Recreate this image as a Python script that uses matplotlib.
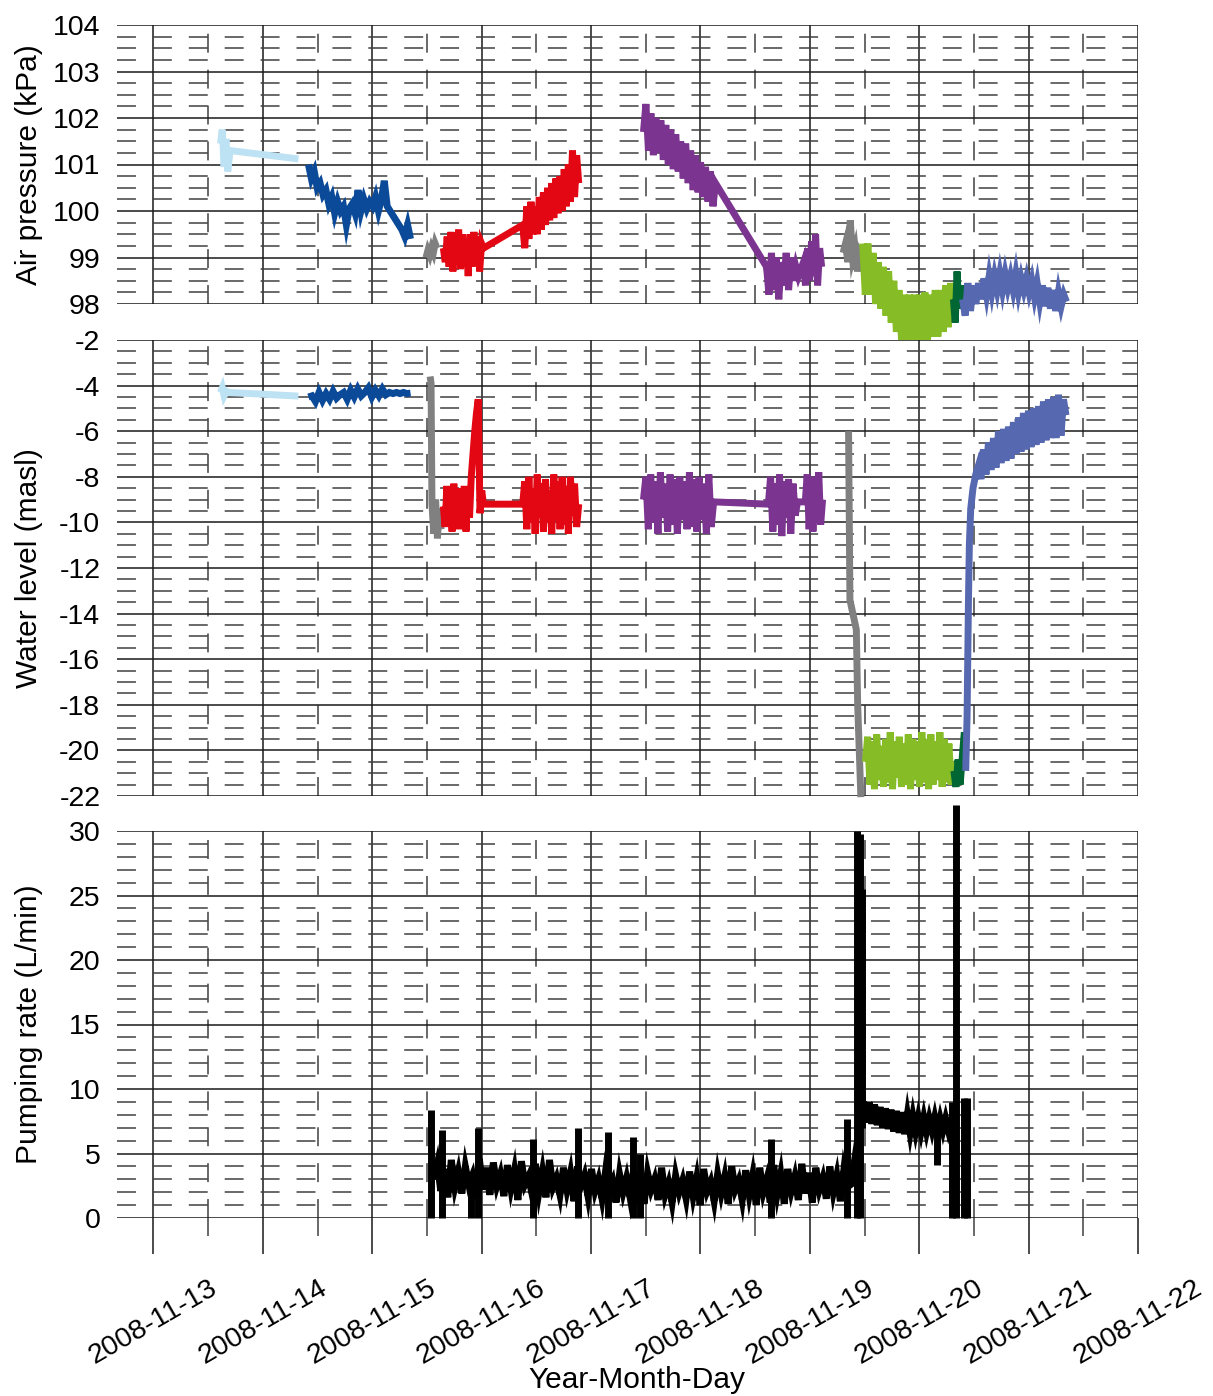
import numpy as np
import matplotlib
matplotlib.use("Agg")
import matplotlib.pyplot as plt
import matplotlib.dates as mdates
from matplotlib.ticker import MultipleLocator

plt.rcParams['font.family'] = ['Liberation Sans', 'DejaVu Sans']
plt.rcParams['axes.unicode_minus'] = False

# time axis: hours after 2008-11-13 00:00
T0 = mdates.date2num(np.datetime64('2008-11-13T00:00'))

def tx(hours):
    return T0 + np.asarray(hours, float) / 24.0

def piece(h0, h1, vals):
    # evenly sampled logger record between h0 and h1
    return list(np.linspace(h0, h1, len(vals))), list(vals)

# ---------------- air pressure (kPa) ----------------
lb_p_t = [14.7, 15.1, 15.5, 15.9, 16.3, 16.8, 31.8]
lb_p = [101.45, 101.75, 100.95, 101.55, 100.85, 101.3, 101.12]

db_p = [101.0, 100.7, 100.85, 100.5, 100.6, 100.35, 100.45, 100.15, 100.3, 99.95,
        100.2, 100.0, 100.1, 99.7, 100.05, 100.15, 99.95, 100.45, 100.0, 100.25,
        100.05, 100.2, 100.1, 100.3, 100.0, 100.25, 100.65, 100.1, 100.0, 99.9,
        99.8, 99.7, 99.6, 99.45, 99.7, 99.4]
gr1_p = [99.0, 99.15, 99.05, 99.2, 99.1, 99.3, 99.2]
rd_p_a = [99.2, 98.9, 99.45, 98.8, 99.55, 98.7, 99.4, 99.0, 99.6, 98.75, 99.5,
          98.9, 99.35, 98.6, 99.5, 98.8, 99.55, 98.9, 99.45, 98.7, 99.3, 99.2]
rd_p_b = [99.7, 99.2, 100.1, 99.4, 100.2, 99.5, 100.1, 99.5, 100.3, 99.6, 100.4,
          99.7, 100.5, 99.8, 100.6, 99.85, 100.7, 99.95, 100.75, 100.0, 100.9,
          100.1, 101.0, 100.2, 101.3, 100.3, 101.2, 100.6]
pu_p_a = [101.7, 102.3, 101.3, 102.1, 101.2, 102.0, 101.25, 101.95, 101.1, 101.85,
          101.0, 101.75, 100.9, 101.65, 100.85, 101.5, 100.7, 101.45, 100.6, 101.3,
          100.45, 101.2, 100.4, 101.05, 100.3, 100.95, 100.2, 100.85, 100.1, 100.6]
pu_p_b = [98.8, 98.2, 99.1, 98.3, 99.0, 98.1, 98.9, 98.4, 99.1, 98.3, 99.0, 98.5,
          98.8, 98.6]
pu_p_c = [98.9, 98.4, 99.2, 98.5, 99.35, 98.6, 99.5, 98.4, 99.2, 98.8]
gr2_p = [99.1, 99.3, 98.9, 99.8, 99.0, 99.2, 98.7, 99.1, 99.0]
yg_p = [99.3, 98.2, 99.3, 98.2, 99.1, 98.0, 98.9, 97.9, 98.8, 97.75, 98.7, 97.6,
        98.5, 97.4, 98.3, 97.2, 98.2, 97.1, 98.2, 97.05, 98.2, 97.1, 98.2, 97.1,
        98.25, 97.2, 98.2, 97.3, 98.3, 97.3, 98.3, 97.4, 98.4, 97.5, 98.45, 98.0]
dg_p = [98.1, 97.6, 98.7, 97.9, 98.4, 98.0]
bv_p = [98.1, 97.75, 98.45, 97.85, 98.4, 98.0, 98.45, 98.1, 98.55, 98.2, 98.6,
        98.25, 98.6, 98.3, 98.65, 98.3, 98.65, 98.35, 98.6, 98.3, 98.65, 98.25,
        98.55, 98.3, 98.55, 98.25, 98.5, 98.15, 98.45, 98.05, 98.4, 97.95, 98.35,
        97.9, 98.3, 97.85, 98.25, 97.95, 98.2, 98.05]

# ---------------- water level (masl) ----------------
lb_w_t = [14.7, 15.1, 15.5, 16.0, 16.5, 31.8]
lb_w = [-4.3, -4.1, -4.45, -4.25, -4.3, -4.46]
db_w = [-4.5, -4.45, -4.7, -4.3, -4.65, -4.35, -4.6, -4.25, -4.55, -4.4, -4.3,
        -4.6, -4.2, -4.5, -4.15, -4.45, -4.3, -4.1, -4.5, -4.2, -4.45, -4.15,
        -4.4, -4.3, -4.35, -4.3, -4.35, -4.3, -4.35, -4.33]
gr1_w_t = [60.7, 60.9, 61.1, 61.5, 61.9, 62.3, 62.7, 63.1]
gr1_w = [-3.6, -3.9, -9.2, -10.5, -9.0, -10.7, -9.4, -10.3]
rd_w_a = [-9.3, -10.2, -8.4, -10.0, -8.6, -10.4, -8.3, -9.9, -8.5, -10.3, -8.6,
          -10.0, -8.4, -10.4, -8.5, -9.8, -8.0, -7.0, -6.0, -5.2, -4.6, -9.6,
          -8.6, -9.2]
rd_w_b = [-9.2, -8.2, -10.3, -8.0, -10.0, -8.5, -10.5, -7.9, -9.8, -8.3, -10.4,
          -8.1, -10.0, -8.6, -10.5, -7.9, -9.9, -8.2, -10.3, -8.0, -10.1, -8.4,
          -10.5, -8.0, -9.7, -8.3, -10.2, -9.2]
pu_w_a = [-9.0, -8.0, -10.3, -7.9, -10.0, -8.2, -10.5, -7.8, -9.8, -8.3, -10.4,
          -7.9, -10.1, -8.1, -10.5, -8.0, -9.9, -8.2, -10.3, -7.8, -10.2, -8.1,
          -10.4, -8.0, -9.9, -8.3, -10.5, -7.9, -10.2, -9.1]
pu_w_b = [-9.2, -8.0, -10.4, -8.3, -10.1, -7.9, -10.6, -8.2, -9.8, -8.1, -10.5,
          -8.3, -9.7, -9.1]
pu_w_c = [-9.1, -7.9, -10.3, -8.0, -10.4, -8.2, -10.0, -7.8, -10.1, -9.0]
gr2_w_t = [152.5, 152.8, 154.2, 154.5, 155.2]
gr2_w = [-6.0, -13.4, -14.7, -18.0, -22.05]
yg_w = [-20.5, -19.4, -21.5, -19.6, -21.7, -19.3, -21.3, -19.8, -21.6, -19.5,
        -21.4, -19.2, -21.7, -19.6, -21.2, -19.4, -21.6, -19.7, -21.5, -19.3,
        -21.7, -19.5, -21.3, -19.6, -21.6, -19.2, -21.4, -19.5, -21.7, -19.3,
        -21.5, -19.6, -21.3, -19.2, -21.6, -19.5, -21.4, -19.7, -21.5, -20.5]
dg_w = [-20.9, -21.6, -20.4, -21.5, -20.3, -19.2]
bv_w_rise_t = [178.2, 178.5, 178.8, 179.0, 179.3, 179.8, 180.4, 181.0]
bv_w_rise = [-20.9, -18.5, -13.5, -11.0, -9.4, -8.5, -7.9, -7.5]
bv_w = [-7.5, -8.1, -6.8, -7.9, -6.5, -7.7, -6.3, -7.6, -6.0, -7.4, -5.9, -7.3,
        -5.8, -7.2, -5.6, -7.0, -5.4, -6.9, -5.2, -6.8, -5.1, -6.7, -5.0, -6.6,
        -4.9, -6.5, -4.7, -6.4, -4.6, -6.3, -4.5, -6.3, -4.4, -6.2, -4.6, -5.3]

# ---------------- pumping rate (L/min) ----------------
pump_low = [3.0, 4.2, 2.1, 3.8, 1.6, 4.5, 2.4, 3.6, 1.9, 4.0, 2.6, 3.3, 1.5, 4.6, 2.2, 3.9, 1.8, 4.3, 2.5, 3.4,
            1.7, 4.1, 2.3, 3.7, 1.4, 4.4, 2.6, 3.2, 1.9, 4.2, 2.0, 3.6, 1.6, 4.5, 2.4, 3.1, 1.8, 3.9, 2.2, 3.5,
            1.3, 4.0, 2.5, 3.3, 1.7, 3.8, 2.1, 3.0, 1.5, 3.6, 2.3, 2.9, 1.2, 3.4, 2.0, 3.1, 1.6, 3.7, 1.9, 2.8,
            1.1, 3.5, 2.2, 3.0, 1.4, 3.9, 1.8, 2.7, 1.2, 3.3, 2.0, 2.9, 1.5, 3.6, 1.7, 3.1, 1.0, 3.8, 2.1, 2.8,
            1.3, 3.4, 1.9, 3.2, 1.1, 4.0, 2.2, 2.9, 1.4, 3.7, 1.8, 3.3, 1.0, 3.9, 2.0, 3.0, 1.2, 4.1, 1.9, 3.4,
            1.1, 3.8, 2.1, 3.2, 1.4, 4.2, 1.9, 3.5, 1.2, 3.9, 2.2, 3.1, 1.5, 4.0, 2.0, 3.3, 1.3, 3.7, 2.4, 2.6]
pump_high = [9.0, 7.4, 9.0, 7.3, 8.8, 7.2, 8.6, 7.0, 8.5, 6.9, 8.4, 6.7, 8.3, 6.6, 8.2, 6.5, 8.0,
             6.6, 7.9, 6.7, 7.8, 6.7, 7.8, 6.7, 7.7, 6.8, 7.8, 6.7, 7.7, 6.8, 7.7, 6.8, 7.6]
spike_h = [60.8, 63.2, 69.6, 71.2, 83.2, 93.2, 99.8, 105.1, 106.8, 135.4, 152.1,
           154.3, 155.0, 155.5, 171.8, 175.2, 176.0, 177.9, 178.5]
spike_lo = [0, 0, 0, 0, 0, 0, 0, 0, 0, 0, 0, 0, 0, 7.0, 4.1, 0, 0, 0, 0]
spike_hi = [8.4, 6.8, 3.5, 7.0, 6.1, 7.0, 6.7, 6.3, 5.0, 6.1, 7.7, 30.0, 29.8,
            25.5, 7.5, 9.0, 32.0, 9.3, 9.3]

C_LB = '#bde2f3'
C_DB = '#0b4a98'
C_GR = '#808080'
C_RD = '#e30613'
C_PU = '#7b3590'
C_YG = '#86bc25'
C_DG = '#006633'
C_BV = '#5668b0'


def join(*parts):
    t, v = [], []
    for pt, pv in parts:
        t += list(pt)
        v += list(pv)
    return tx(t), v


fig = plt.figure(figsize=(12.13, 13.96), dpi=100)
L, W = 117 / 1213, 1021 / 1213
ax1 = fig.add_axes([L, 1 - 304 / 1396, W, 279 / 1396])
ax2 = fig.add_axes([L, 1 - 796 / 1396, W, 456 / 1396])
ax3 = fig.add_axes([L, 1 - 1218 / 1396, W, 387 / 1396])

LW = 5
kw = dict(lw=LW, solid_joinstyle='miter', solid_capstyle='butt', clip_on=False, zorder=3)

# air pressure
ax1.plot(*join((lb_p_t, lb_p)), color=C_LB, **kw)
ax1.plot(*join(piece(34.0, 56.4, db_p)), color=C_DB, **kw)
ax1.plot(*join(piece(59.8, 62.2, gr1_p)), color=C_GR, **kw)
ax1.plot(*join(piece(63.6, 72.4, rd_p_a), piece(81.0, 93.3, rd_p_b)), color=C_RD, **kw)
ax1.plot(*join(piece(107.5, 123.3, pu_p_a), piece(134.5, 141.5, pu_p_b),
               piece(142.6, 146.6, pu_p_c)), color=C_PU, **kw)
ax1.plot(*join(piece(151.3, 155.5, gr2_p)), color=C_GR, **kw)
ax1.plot(*join(piece(155.6, 175.5, yg_p)), color=C_YG, **kw)
ax1.plot(*join(piece(175.5, 177.5, dg_p)), color=C_DG, **kw)
ax1.plot(*join(piece(177.5, 200.3, bv_p)), color=C_BV, **kw)

# water level
ax2.plot(*join((lb_w_t, lb_w)), color=C_LB, **kw)
ax2.plot(*join(piece(34.0, 56.4, db_w)), color=C_DB, **kw)
ax2.plot(*join((gr1_w_t, gr1_w)), color=C_GR, **kw)
ax2.plot(*join(piece(63.6, 72.4, rd_w_a), piece(81.0, 93.3, rd_w_b)), color=C_RD, **kw)
ax2.plot(*join(piece(107.5, 122.9, pu_w_a), piece(134.9, 141.3, pu_w_b),
               piece(143.0, 146.8, pu_w_c)), color=C_PU, **kw)
ax2.plot(*join((gr2_w_t, gr2_w)), color=C_GR, **kw)
ax2.plot(*join(piece(156.2, 175.5, yg_w)), color=C_YG, **kw)
ax2.plot(*join(piece(175.6, 177.9, dg_w)), color=C_DG, **kw)
ax2.plot(*join((bv_w_rise_t, bv_w_rise), piece(181.0, 200.2, bv_w)), color=C_BV, **kw)

# pumping rate
ax3.plot(*join(piece(61.5, 153.0, pump_low), piece(155.8, 175.0, pump_high)),
         color='black', **kw)
ax3.vlines(tx(spike_h), spike_lo, spike_hi, color='black', lw=LW, clip_on=False, zorder=3)

major_dash = dict(color='#1a1a1a', lw=1.1, ls='-')
minor_dash = dict(color='#404040', lw=1.1, ls=(0, (12.4, 11.1)))

for ax in (ax1, ax2, ax3):
    ax.set_xlim(tx(-8.0), tx(216.0))
    ax.xaxis.set_major_locator(mdates.DayLocator())
    ax.xaxis.set_minor_locator(mdates.HourLocator(byhour=[12]))
    ax.xaxis.set_major_formatter(mdates.DateFormatter('%Y-%m-%d'))
    for s in ax.spines.values():
        s.set_visible(False)
    ax.set_axisbelow(True)
    ax.grid(which='major', **major_dash)
    ax.grid(which='minor', **minor_dash)
    ax.tick_params(axis='y', which='both', length=0, pad=12, labelsize=20.5)
    ax.yaxis.set_label_coords(-0.072, 0.5)

ax1.set_ylim(98, 104)
ax1.yaxis.set_major_locator(MultipleLocator(1))
ax1.yaxis.set_minor_locator(MultipleLocator(0.25))
ax1.set_ylabel('Air pressure (kPa)', fontsize=21.5)

ax2.set_ylim(-22, -2)
ax2.yaxis.set_major_locator(MultipleLocator(2))
ax2.yaxis.set_minor_locator(MultipleLocator(0.5))
ax2.set_ylabel('Water level (masl)', fontsize=21.5)

ax3.set_ylim(0, 30)
ax3.yaxis.set_major_locator(MultipleLocator(5))
ax3.yaxis.set_minor_locator(MultipleLocator(1))
ax3.set_ylabel('Pumping rate (L/min)', fontsize=21.5)

for ax in (ax1, ax2):
    ax.tick_params(axis='x', which='both', length=0, labelbottom=False)
ax3.tick_params(axis='x', which='major', length=26, width=1.1, color='#1a1a1a',
                direction='out', pad=15, labelsize=20.5, labelrotation=30)
ax3.tick_params(axis='x', which='minor', length=13, width=1.1, color='#404040',
                direction='out')

fig.text(637 / 1213, 1 - 1380 / 1396, 'Year-Month-Day', fontsize=21.5,
         ha='center', va='center')

fig.savefig('out.png', dpi=100)
